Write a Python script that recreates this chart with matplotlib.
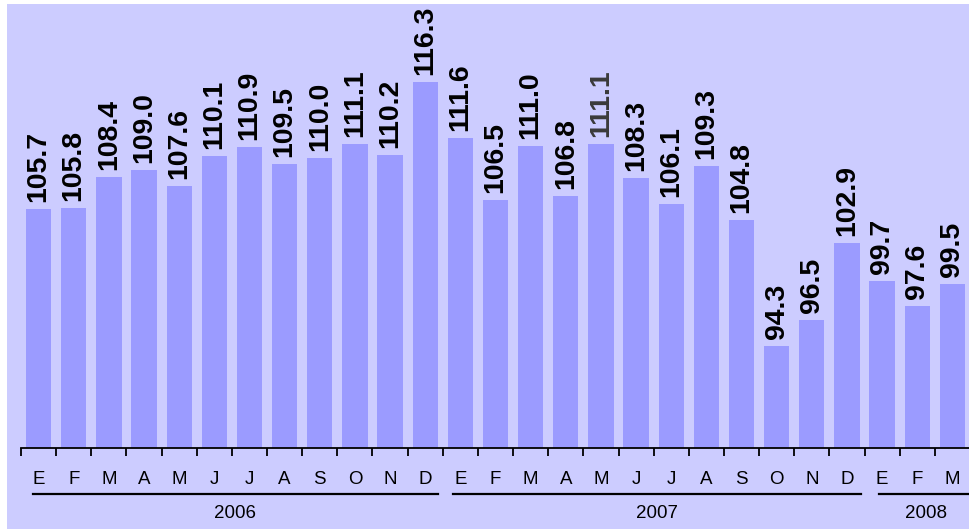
import matplotlib
matplotlib.use("Agg")
import matplotlib.pyplot as plt
import matplotlib.transforms as mtransforms
from matplotlib.patches import Rectangle
from matplotlib.lines import Line2D

months = ["E", "F", "M", "A", "M", "J", "J", "A", "S", "O", "N", "D",
          "E", "F", "M", "A", "M", "J", "J", "A", "S", "O", "N", "D",
          "E", "F", "M"]
values = [105.7, 105.8, 108.4, 109.0, 107.6, 110.1, 110.9, 109.5, 110.0, 111.1, 110.2, 116.3,
          111.6, 106.5, 111.0, 106.8, 111.1, 108.3, 106.1, 109.3, 104.8, 94.3, 96.5, 102.9,
          99.7, 97.6, 99.5]
years = ["2006", "2007", "2008"]
year_counts = [12, 12, 3]

plt.rcParams['font.family'] = ['Liberation Sans', 'DejaVu Sans']

W, H = 969, 529
fig = plt.figure(figsize=(W / 100, H / 100), dpi=100)
fig.patch.set_facecolor("white")
bg = Rectangle((7 / W, 0), 1 - 7 / W, 1 - 4 / H, transform=fig.transFigure,
               facecolor="#CCCCFF", edgecolor="none", zorder=-10)
fig.patches.append(bg)

ax_left = 21 / W
ax_right = 970 / W
ax_bottom = (H - 448) / H
ax = fig.add_axes([ax_left, ax_bottom, ax_right - ax_left, 1 - ax_bottom])
ax.set_facecolor("none")
ax.set_zorder(1)

n = len(values)
x = list(range(n))
ax.bar(x, values, width=0.72, color="#9B9BFF", edgecolor="none", zorder=2)
ax.set_xlim(-0.5, n - 0.5)
ax.set_ylim(85.8, 123.13)

for s in ["top", "right", "left"]:
    ax.spines[s].set_visible(False)
ax.spines["bottom"].set_linewidth(1.3)
ax.yaxis.set_visible(False)
ax.set_xticks([i - 0.5 for i in range(n + 1)])
ax.set_xticklabels([])
ax.tick_params(axis="x", length=6, width=1.3, direction="out")

label_color_override = {16: "#3a3a3a"}
for i, v in enumerate(values):
    ax.annotate(f"{v:.1f}", xy=(i, v), xytext=(0, 5), textcoords="offset points",
                rotation=90, ha="center", va="bottom", fontsize=20.5, fontweight="bold",
                color=label_color_override.get(i, "black"), annotation_clip=False)

trans = mtransforms.blended_transform_factory(ax.transData, fig.transFigure)
for i, m in enumerate(months):
    ax.text(i, (H - 479) / H, m, transform=trans, ha="center", va="center",
            fontsize=13.5, color="black", clip_on=False)

# year group underlines and labels
start = 0
insets = [(0.35, 0.15), (0.3, 0.1), (0.4, -0.1)]
for yr, cnt, (l_in, r_in) in zip(years, year_counts, insets):
    x0 = start - 0.5 + l_in
    x1 = start + cnt - 0.5 - r_in
    ax.add_line(Line2D([x0, x1], [(H - 494) / H] * 2, transform=trans, color="black",
                       linewidth=1.6, clip_on=False))
    ax.text((x0 + x1) / 2, (H - 513) / H, yr, transform=trans,
            ha="center", va="center", fontsize=13.5, color="black", clip_on=False)
    start += cnt

fig.savefig("out.png", dpi=100)
